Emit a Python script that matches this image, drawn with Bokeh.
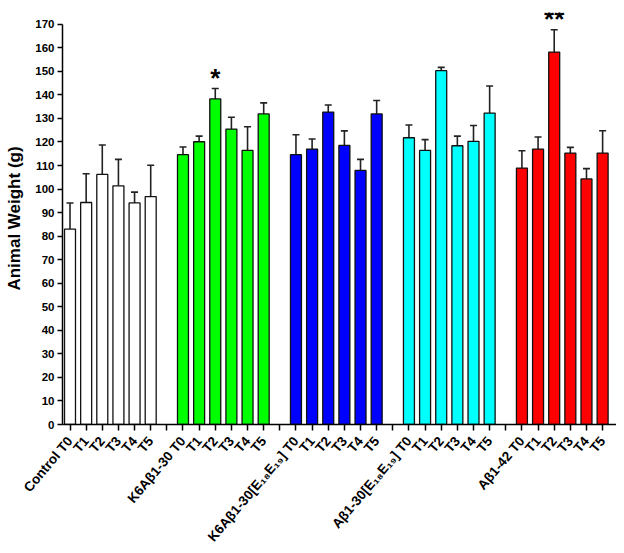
import math
from bokeh.plotting import figure
from bokeh.models import Range1d, FixedTicker, Whisker, TeeHead, ColumnDataSource
from bokeh.core.properties import value
from bokeh.embed import file_html
from bokeh.resources import INLINE

groups = ["Control", "K6Aβ1-30", "K6Aβ1-30[E₁₈E₁₉]", "Aβ1-30[E₁₈E₁₉]", "Aβ1-42"]
times = ["T0", "T1", "T2", "T3", "T4", "T5"]
colors = ["#FFFFFF", "#00FF00", "#0000FF", "#00FFFF", "#FF0000"]

control_mean = [83.0, 94.3, 106.2, 101.4, 94.1, 96.8]
control_err = [11.1, 12.2, 12.5, 11.2, 4.6, 13.3]
k6_mean = [114.6, 120.1, 138.3, 125.5, 116.4, 131.9]
k6_err = [3.3, 2.4, 4.4, 5.0, 10.1, 4.7]
k6e_mean = [114.6, 117.0, 132.7, 118.6, 107.9, 131.9]
k6e_err = [8.5, 4.3, 3.0, 6.1, 4.7, 5.7]
ab30e_mean = [121.8, 116.4, 150.3, 118.4, 120.3, 132.3]
ab30e_err = [5.4, 4.6, 1.4, 4.1, 6.7, 11.5]
ab42_mean = [108.9, 117.0, 158.2, 115.3, 104.3, 115.3]
ab42_err = [7.4, 5.1, 9.5, 2.4, 4.4, 9.5]

significance = [("K6Aβ1-30", "T2", "*"), ("Aβ1-42", "T2", "**")]

means = [control_mean, k6_mean, k6e_mean, ab30e_mean, ab42_mean]
errs = [control_err, k6_err, k6e_err, ab30e_err, ab42_err]

FONT = "Liberation Sans"

p = figure(width=616, height=552, output_backend="svg", toolbar_location=None,
           x_range=Range1d(-0.465, 33.86), y_range=Range1d(0, 175),
           min_border_left=62, min_border_right=0, min_border_top=12, min_border_bottom=128)
p.grid.visible = False
p.outline_line_color = None
p.background_fill_color = "white"
p.border_fill_color = "white"

slot = 7
xs, tops, uppers, fills = [], [], [], []
for g, (m, e) in enumerate(zip(means, errs)):
    for i in range(len(times)):
        xs.append(g * slot + i)
        tops.append(m[i])
        uppers.append(m[i] + e[i])
        fills.append(colors[g])

src = ColumnDataSource(dict(x=xs, top=tops, upper=uppers, fill=fills))
p.vbar(x="x", top="top", bottom=0, width=0.68, source=src, fill_color="fill",
       line_color="#111111", line_width=1.3)

wh = Whisker(base="x", lower="top", upper="upper", source=src,
             line_color="#222222", line_width=1.6,
             upper_head=TeeHead(size=7, line_color="#222222", line_width=1.6),
             lower_head=None)
p.add_layout(wh)

# significance marks
sx, sy, st = [], [], []
for gname, tname, mark in significance:
    g = groups.index(gname)
    i = times.index(tname)
    sx.append(g * slot + i)
    sy.append(means[g][i] + errs[g][i] + 4.5)
    st.append(mark)
p.text(x=sx, y=sy, text=st, text_align="center", text_baseline="alphabetic",
       text_font=value(FONT), text_font_style="bold", text_font_size="26px",
       text_color="#000000")

# x axis
ticks = list(range(0, 5 * slot - 1))
overrides = {}
for t in ticks:
    g, i = divmod(t, slot)
    if i < len(times):
        overrides[t] = (groups[g] + " " + times[i]) if i == 0 else times[i]
    else:
        overrides[t] = ""
p.xaxis.ticker = FixedTicker(ticks=ticks)
p.xaxis.major_label_overrides = overrides
p.xaxis.major_label_orientation = 0.87
p.xaxis.major_label_text_font = FONT
p.xaxis.major_label_text_font_style = "bold"
p.xaxis.major_label_text_font_size = "13.5px"
p.xaxis.major_label_text_color = "#000000"
p.xaxis.major_label_standoff = 8
p.xaxis.minor_tick_line_color = None
p.xaxis.major_tick_in = 0
p.xaxis.major_tick_out = 6
p.xaxis.axis_line_width = 1.5
p.xaxis.major_tick_line_width = 1.5
p.xaxis.axis_line_color = "#000000"

# y axis
p.yaxis.ticker = FixedTicker(ticks=list(range(0, 171, 10)))
p.yaxis.bounds = (0, 170)
p.yaxis.axis_label = "Animal Weight (g)"
p.yaxis.axis_label_text_font = FONT
p.yaxis.axis_label_text_font_style = "bold"
p.yaxis.axis_label_text_font_size = "17px"
p.yaxis.axis_label_text_color = "#000000"
p.yaxis.axis_label_standoff = 8
p.yaxis.major_label_text_font = FONT
p.yaxis.major_label_text_font_style = "bold"
p.yaxis.major_label_text_font_size = "11.5px"
p.yaxis.major_label_text_color = "#000000"
p.yaxis.major_label_standoff = 3
p.yaxis.minor_tick_line_color = None
p.yaxis.major_tick_in = 0
p.yaxis.major_tick_out = 5
p.yaxis.axis_line_width = 1.5
p.yaxis.major_tick_line_width = 1.5
p.yaxis.axis_line_color = "#000000"

open("out.html", "w").write(file_html(p, INLINE))
